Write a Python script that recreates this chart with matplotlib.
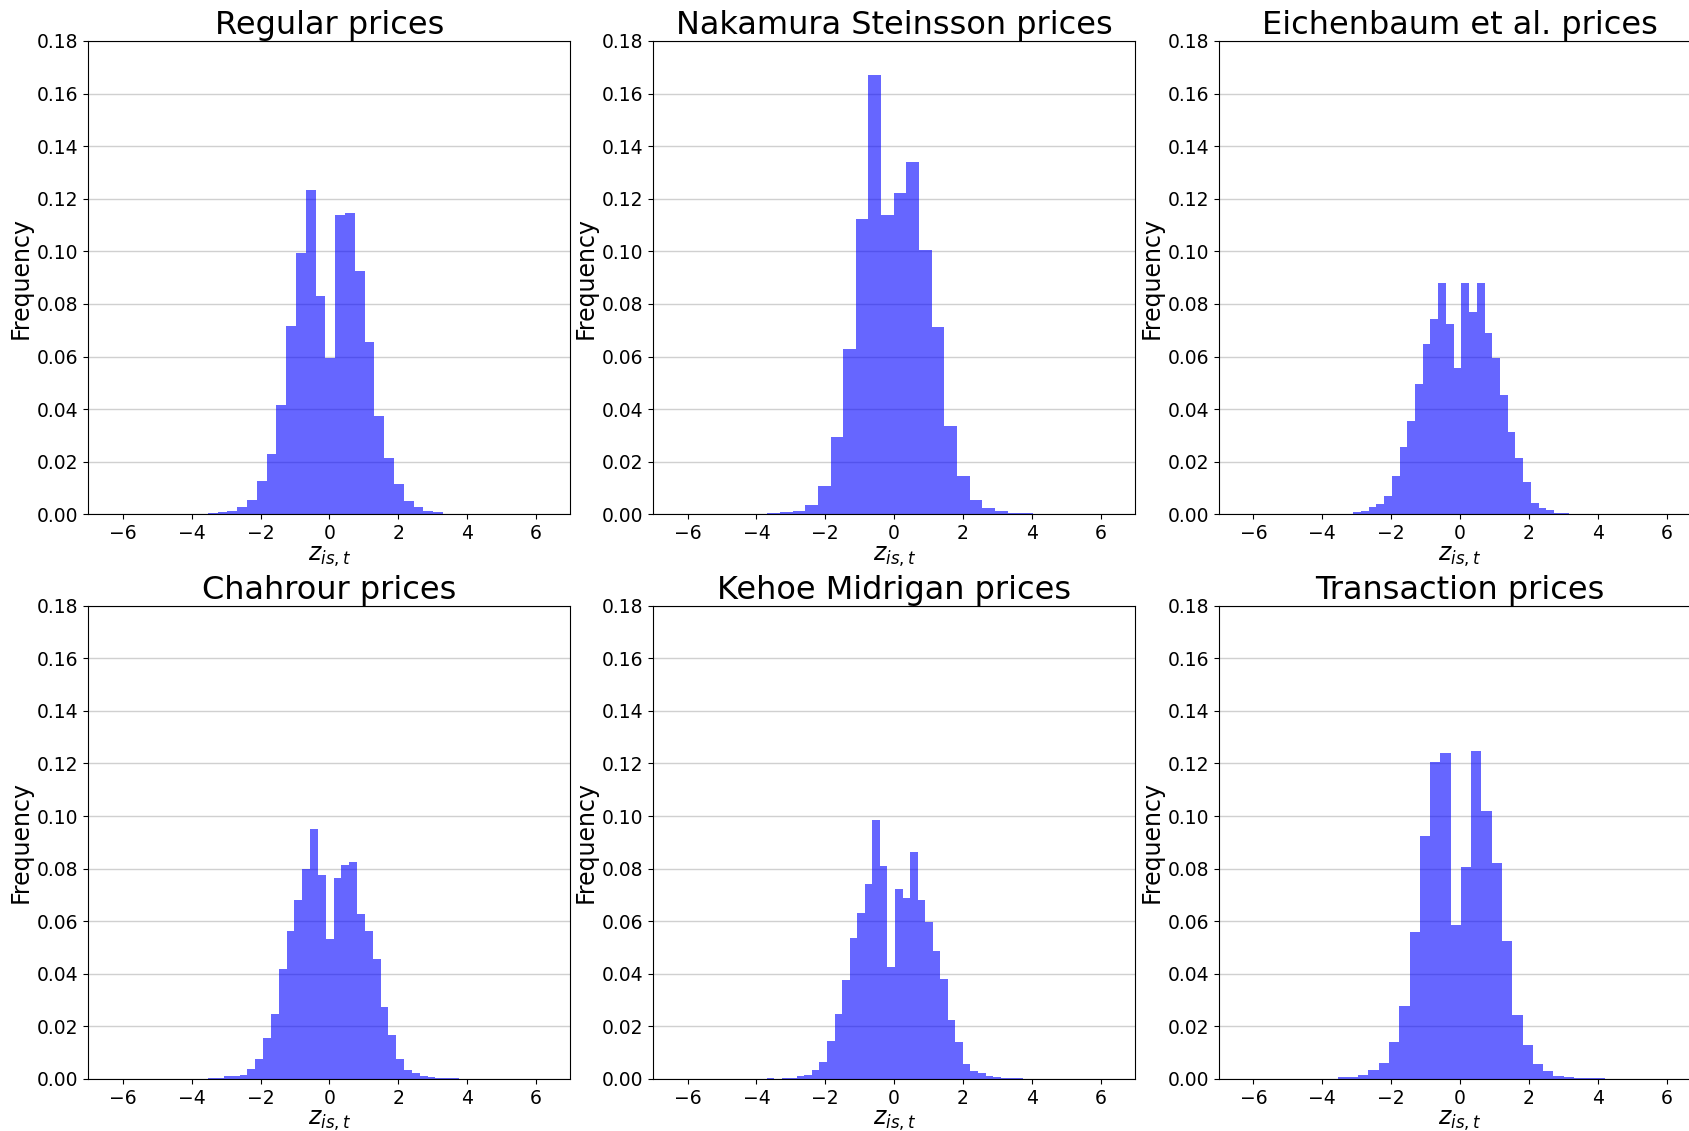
import numpy as np
import matplotlib
matplotlib.use("Agg")
import matplotlib.pyplot as plt

titles = ["Regular prices", "Nakamura Steinsson prices", "Eichenbaum et al. prices",
          "Chahrour prices", "Kehoe Midrigan prices", "Transaction prices"]

# first bin edge and bin width of each histogram
first_edge = [-4.099, -4.419, -3.773, -4.205, -4.363, -4.451]
bin_width = [0.2845, 0.3675, 0.2243, 0.2277, 0.2194, 0.2985]

regular = [0.0003, 0.0003, 0.0004, 0.0009, 0.0013, 0.0029, 0.0053, 0.0128, 0.0231, 0.0417,
           0.0715, 0.0995, 0.1232, 0.0831, 0.0596, 0.1138, 0.1144, 0.0924, 0.0655, 0.0374,
           0.0213, 0.0117, 0.0051, 0.0027, 0.0014, 0.0009, 0.0003, 0.0003, 0.0002]

nakamura = [0.0001, 0.0001, 0.0004, 0.0008, 0.0014, 0.0034, 0.0108, 0.0294, 0.0629, 0.1122,
            0.1670, 0.1140, 0.1223, 0.1338, 0.1005, 0.0712, 0.0335, 0.0144, 0.0055, 0.0023,
            0.0013, 0.0006, 0.0004, 0.0002, 0.0002, 0.0001, 0.0001]

eichenbaum = [0.0001, 0.0003, 0.0003, 0.0009, 0.0014, 0.0029, 0.0040, 0.0069, 0.0144, 0.0255,
              0.0355, 0.0495, 0.0649, 0.0744, 0.0878, 0.0722, 0.0556, 0.0881, 0.0769, 0.0878,
              0.0689, 0.0595, 0.0453, 0.0313, 0.0213, 0.0121, 0.0044, 0.0023, 0.0018, 0.0006,
              0.0004]

chahrour = [0.0001, 0.0001, 0.0001, 0.0004, 0.0004, 0.0010, 0.0010, 0.0015, 0.0037, 0.0076,
            0.0157, 0.0249, 0.0420, 0.0562, 0.0680, 0.0797, 0.0949, 0.0775, 0.0534, 0.0763,
            0.0813, 0.0827, 0.0628, 0.0562, 0.0457, 0.0273, 0.0166, 0.0076, 0.0034, 0.0024,
            0.0013, 0.0008, 0.0005, 0.0004, 0.0003, 0.0001]

kehoe = [0.0001, 0.0001, 0.0001, 0.0005, 0.0001, 0.0005, 0.0005, 0.0011, 0.0016, 0.0034,
         0.0065, 0.0144, 0.0247, 0.0376, 0.0535, 0.0632, 0.0742, 0.0986, 0.0811, 0.0427,
         0.0723, 0.0687, 0.0863, 0.0680, 0.0596, 0.0485, 0.0380, 0.0223, 0.0139, 0.0058,
         0.0032, 0.0023, 0.0013, 0.0006, 0.0004, 0.0003, 0.0003, 0.0001]

transaction = [0.0001, 0.0001, 0.0001, 0.0006, 0.0006, 0.0016, 0.0033, 0.0062, 0.0142, 0.0278,
               0.0559, 0.0925, 0.1205, 0.1238, 0.0584, 0.0806, 0.1249, 0.1019, 0.0823, 0.0524,
               0.0242, 0.0128, 0.0058, 0.0032, 0.0013, 0.0008, 0.0004, 0.0003, 0.0002, 0.0001]

series = [regular, nakamura, eichenbaum, chahrour, kehoe, transaction]

x_ticks = [-6, -4, -2, 0, 2, 4, 6]
y_ticks = [0.00, 0.02, 0.04, 0.06, 0.08, 0.10, 0.12, 0.14, 0.16, 0.18]

W, H = 1690, 1131
fig = plt.figure(figsize=(W / 100, H / 100), dpi=100)

col_left = [88.4, 653.1, 1219.0]
ax_w = 482.0
row_top = [41.0, 605.7]
ax_h = 473.3

for i, (title, vals) in enumerate(zip(titles, series)):
    r, c = divmod(i, 3)
    left = col_left[c] / W
    bottom = 1 - (row_top[r] + ax_h) / H
    ax = fig.add_axes([left, bottom, ax_w / W, ax_h / H])
    vals = np.asarray(vals)
    edges = first_edge[i] + bin_width[i] * np.arange(len(vals) + 1)
    centers = 0.5 * (edges[:-1] + edges[1:])
    ax.set_axisbelow(True)
    ax.grid(axis="y", color="#d0d0d0", linewidth=1.0)
    ax.hist(centers, bins=edges, weights=vals, color="blue", alpha=0.6)
    ax.set_xlim(-7, 7)
    ax.set_ylim(0, 0.18)
    ax.set_xticks(x_ticks)
    ax.set_yticks(y_ticks)
    ax.set_yticklabels([f"{t:.2f}" for t in y_ticks])
    ax.tick_params(labelsize=13.5)
    ax.set_title(title, fontsize=23, pad=4)
    ax.set_ylabel("Frequency", fontsize=17, labelpad=3)
    ax.set_xlabel(r"$z_{is,t}$", fontsize=17, labelpad=1)

fig.savefig("out.png", dpi=100)
